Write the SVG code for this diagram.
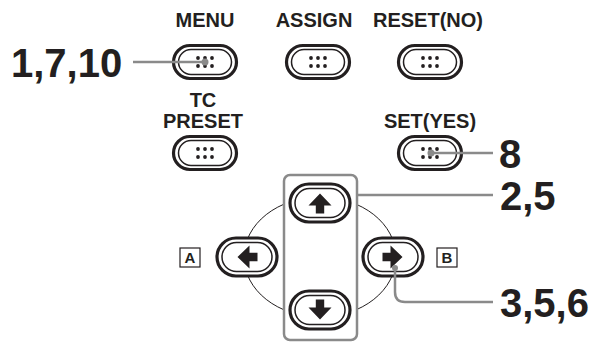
<svg xmlns="http://www.w3.org/2000/svg" width="605" height="342" viewBox="0 0 605 342">
<style>
  .lbl{font-family:"Liberation Sans",Arial,sans-serif;font-weight:bold;font-size:20px;fill:#231f20;text-anchor:middle}
  .num{font-family:"Liberation Sans",Arial,sans-serif;font-weight:bold;font-size:40px;fill:#231f20}
  .box{font-family:"Liberation Sans",Arial,sans-serif;font-weight:bold;font-size:15px;fill:#231f20;text-anchor:middle}
  .outer{fill:#fff;stroke:#231f20;stroke-width:3.2}
  .inner{fill:none;stroke:#231f20;stroke-width:1.5}
  .dot{fill:#231f20}
  .conn{fill:none;stroke:#8a8a8a;stroke-width:2.5}
  .cdot{fill:#8a8a8a}
  .frame{fill:#fff;stroke:#8a8a8a;stroke-width:2.5}
</style>
<defs>
  <g id="btn">
    <rect class="outer" x="-31.5" y="-16.5" width="63" height="33" rx="16.5"/>
    <rect class="inner" x="-26.5" y="-12.5" width="53" height="25" rx="12.5"/>
    <circle class="dot" cx="-7" cy="-4" r="1.9"/><circle class="dot" cx="0" cy="-4" r="1.9"/><circle class="dot" cx="7" cy="-4" r="1.9"/>
    <circle class="dot" cx="-7" cy="4" r="1.9"/><circle class="dot" cx="0" cy="4" r="1.9"/><circle class="dot" cx="7" cy="4" r="1.9"/>
  </g>
  <g id="abtn">
    <rect class="outer" x="-30" y="-19" width="60" height="38" rx="19"/>
    <rect class="inner" x="-25" y="-14.5" width="50" height="29" rx="14.5"/>
    <path d="M0,-9.5 L11.5,2.5 L4.2,2.5 L4.2,10.5 L-4.2,10.5 L-4.2,2.5 L-11.5,2.5 Z" fill="#231f20"/>
  </g>
  <g id="abtnh">
    <rect class="outer" x="-30" y="-19" width="60" height="38" rx="19"/>
    <rect class="inner" x="-25" y="-14.5" width="50" height="29" rx="14.5"/>
    <path d="M9.5,0 L-2.5,11.5 L-2.5,4.2 L-10.5,4.2 L-10.5,-4.2 L-2.5,-4.2 L-2.5,-11.5 Z" fill="#231f20"/>
  </g>
</defs>
<rect width="605" height="342" fill="#fff"/>

<g id="menu"><text class="lbl" x="205" y="27">MENU</text><use href="#btn" x="205" y="62"/></g>
<g id="assign"><text class="lbl" x="314" y="27">ASSIGN</text><use href="#btn" x="318" y="62"/></g>
<g id="reset"><text class="lbl" x="428" y="27">RESET(NO)</text><use href="#btn" x="430" y="62"/></g>
<g id="tcpreset"><text class="lbl" x="203" y="107">TC</text><text class="lbl" x="203" y="128">PRESET</text><use href="#btn" x="205" y="153"/></g>
<g id="set"><text class="lbl" x="430" y="128">SET(YES)</text><use href="#btn" x="430" y="153"/></g>

<g id="dpad">
  <ellipse cx="320" cy="257" rx="76" ry="60" fill="none" stroke="#231f20" stroke-width="1"/>
  <rect class="frame" x="284" y="175" width="73" height="165" rx="6"/>
</g>
<g id="up"><use href="#abtn" transform="translate(320,203)"/></g>
<g id="down"><use href="#abtn" transform="translate(320,310) rotate(180)"/></g>
<g id="left"><use href="#abtnh" transform="translate(247,257) rotate(180)"/></g>
<g id="right"><use href="#abtnh" transform="translate(393,257)"/></g>

<g id="boxA"><rect x="180" y="248" width="20" height="19" fill="#fff" stroke="#231f20" stroke-width="1.2"/><text class="box" x="190" y="263">A</text></g>
<g id="boxB"><rect x="437" y="248" width="20" height="19" fill="#fff" stroke="#231f20" stroke-width="1.2"/><text class="box" x="447" y="263">B</text></g>

<g id="connectors">
  <line class="conn" x1="133" y1="62" x2="205" y2="62"/>
  <circle class="cdot" cx="205" cy="62" r="3.5"/>
  <line class="conn" x1="431" y1="153" x2="493" y2="153"/>
  <circle class="cdot" cx="431" cy="153" r="3.5"/>
  <line class="conn" x1="357" y1="195" x2="493" y2="195"/>
  <path class="conn" d="M395,268 V292 Q395,302 405,302 H493"/>
  <circle class="cdot" cx="395" cy="268" r="3"/>
</g>

<g id="labels">
  <text class="num" x="11" y="77">1,7,10</text>
  <text class="num" x="499" y="168">8</text>
  <text class="num" x="500" y="210">2,5</text>
  <text class="num" x="500" y="317">3,5,6</text>
</g>
</svg>
